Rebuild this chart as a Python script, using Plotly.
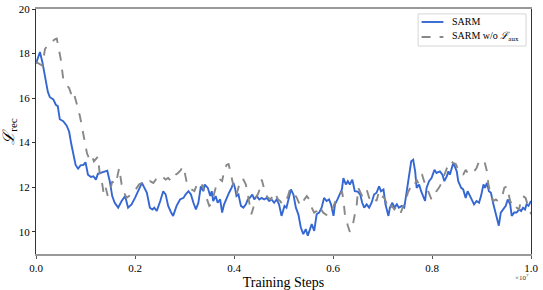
import plotly.graph_objects as go

# Training steps in units of 1e7
sarm_steps = [0.0, 0.008, 0.013, 0.016, 0.020, 0.024, 0.028, 0.035, 0.040, 0.044, 0.048, 0.055, 0.062, 0.067,
              0.071, 0.075, 0.080, 0.085, 0.090, 0.096, 0.100, 0.105, 0.111, 0.116, 0.121, 0.125, 0.131, 0.137,
              0.144, 0.149, 0.154, 0.159, 0.164, 0.166, 0.173, 0.180, 0.186, 0.193, 0.200, 0.207, 0.214, 0.219,
              0.224, 0.230, 0.235, 0.239, 0.244, 0.251, 0.257, 0.262, 0.267, 0.273, 0.277, 0.284, 0.291, 0.298,
              0.302, 0.308, 0.313, 0.318, 0.323, 0.328, 0.333, 0.338, 0.341, 0.347, 0.352, 0.355, 0.358, 0.363,
              0.367, 0.372, 0.376, 0.380, 0.385, 0.390, 0.395, 0.399, 0.402, 0.405, 0.409, 0.414, 0.419, 0.424,
              0.428, 0.432, 0.437, 0.441, 0.446, 0.451, 0.456, 0.461, 0.466, 0.471, 0.476, 0.481, 0.486, 0.491,
              0.496, 0.502, 0.506, 0.510, 0.515, 0.520, 0.525, 0.530, 0.535, 0.540, 0.545, 0.549, 0.554, 0.557,
              0.562, 0.567, 0.572, 0.577, 0.582, 0.587, 0.592, 0.596, 0.601, 0.604, 0.609, 0.614, 0.618, 0.621,
              0.626, 0.630, 0.634, 0.639, 0.644, 0.650, 0.655, 0.659, 0.663, 0.668, 0.673, 0.678, 0.683, 0.688,
              0.693, 0.697, 0.702, 0.706, 0.712, 0.715, 0.720, 0.724, 0.729, 0.733, 0.739, 0.744, 0.749, 0.754,
              0.758, 0.762, 0.766, 0.769, 0.774, 0.778, 0.782, 0.786, 0.789, 0.794, 0.799, 0.805, 0.809, 0.816,
              0.821, 0.825, 0.830, 0.833, 0.836, 0.840, 0.843, 0.846, 0.850, 0.853, 0.859, 0.863, 0.868, 0.872,
              0.877, 0.881, 0.885, 0.890, 0.895, 0.899, 0.904, 0.907, 0.911, 0.915, 0.919, 0.924, 0.929, 0.933,
              0.935, 0.939, 0.944, 0.949, 0.953, 0.958, 0.961, 0.966, 0.971, 0.976, 0.980, 0.984, 0.988, 0.991,
              0.995, 1.0]
sarm_loss = [17.55, 18.07, 17.6, 17.23, 16.78, 16.27, 16.04, 15.94, 15.70, 15.64, 15.05, 14.96, 14.76, 14.49,
             13.97, 13.45, 13.0, 12.83, 12.98, 13.0, 13.12, 12.56, 12.46, 12.49, 12.34, 12.60, 12.64, 12.67,
             12.74, 12.27, 11.60, 11.30, 11.11, 11.08, 11.38, 11.6, 11.08, 11.23, 11.52, 11.82, 12.19, 11.97,
             11.75, 11.08, 11.0, 11.08, 10.93, 11.38, 11.82, 11.67, 11.16, 10.86, 10.71, 11.16, 11.45, 11.52,
             11.67, 11.82, 11.67, 11.30, 11.0, 11.3, 12.04, 11.82, 12.12, 11.97, 11.6, 11.82, 11.38, 11.6,
             11.3, 11.45, 10.86, 11.23, 11.52, 11.75, 11.97, 12.19, 11.97, 11.6, 11.67, 11.16, 11.08, 11.23,
             11.45, 11.52, 11.67, 11.45, 11.6, 11.45, 11.52, 11.45, 11.52, 11.38, 11.45, 11.30, 11.45, 11.23,
             10.71, 11.16, 11.08, 11.45, 11.9, 11.67, 11.08, 10.78, 10.19, 9.89, 10.12, 9.82, 10.12, 10.34,
             10.04, 10.78, 10.86, 11.08, 11.52, 11.38, 11.45, 11.23, 10.71, 11.23, 11.45, 11.75, 11.9, 12.41,
             12.12, 12.27, 12.12, 12.34, 11.82, 11.8, 11.67, 11.3, 11.08, 11.23, 11.08, 11.3, 11.67, 11.75,
             12.04, 11.82, 11.9, 11.23, 10.71, 11.08, 11.3, 11.08, 11.23, 11.08, 11.16, 11.08, 11.82, 12.71,
             13.16, 13.23, 12.71, 11.97, 12.12, 11.82, 11.6, 11.38, 11.97, 12.27, 12.41, 12.78, 12.64, 12.71,
             12.56, 12.27, 12.49, 12.71, 12.56, 12.93, 13.08, 12.93, 12.71, 12.27, 11.97, 11.9, 11.52, 11.82,
             11.6, 11.38, 11.23, 11.38, 11.30, 11.6, 12.12, 11.97, 12.19, 11.82, 11.75, 11.23, 10.78, 10.49,
             10.27, 10.86, 11.0, 11.16, 11.45, 11.23, 10.71, 10.86, 10.86, 11.0, 10.93, 11.08, 11.0, 11.23,
             11.16, 11.38]

noaux_steps = [0.0, 0.008, 0.013, 0.018, 0.023, 0.030, 0.038, 0.042, 0.046, 0.050, 0.055, 0.060, 0.067, 0.071,
               0.075, 0.080, 0.085, 0.089, 0.093, 0.097, 0.103, 0.107, 0.112, 0.117, 0.123, 0.125, 0.129, 0.134,
               0.137, 0.141, 0.145, 0.149, 0.154, 0.158, 0.163, 0.168, 0.170, 0.173, 0.178, 0.183, 0.188, 0.193,
               0.199, 0.203, 0.208, 0.214, 0.219, 0.224, 0.230, 0.237, 0.242, 0.247, 0.252, 0.257, 0.262, 0.267,
               0.273, 0.277, 0.282, 0.287, 0.293, 0.296, 0.300, 0.304, 0.309, 0.314, 0.320, 0.325, 0.329, 0.334,
               0.336, 0.340, 0.345, 0.350, 0.354, 0.358, 0.363, 0.367, 0.372, 0.376, 0.380, 0.385, 0.389, 0.392,
               0.397, 0.401, 0.405, 0.410, 0.414, 0.419, 0.424, 0.428, 0.432, 0.435, 0.439, 0.442, 0.448, 0.453,
               0.456, 0.459, 0.464, 0.469, 0.475, 0.479, 0.484, 0.489, 0.493, 0.498, 0.503, 0.509, 0.513, 0.518,
               0.522, 0.527, 0.531, 0.537, 0.542, 0.547, 0.552, 0.557, 0.562, 0.567, 0.572, 0.576, 0.580, 0.585,
               0.591, 0.596, 0.601, 0.605, 0.609, 0.614, 0.618, 0.621, 0.624, 0.630, 0.634, 0.639, 0.643, 0.648,
               0.651, 0.655, 0.659, 0.663, 0.668, 0.673, 0.678, 0.683, 0.688, 0.693, 0.698, 0.704, 0.708, 0.713,
               0.719, 0.724, 0.729, 0.733, 0.737, 0.742, 0.747, 0.751, 0.756, 0.760, 0.764, 0.769, 0.772, 0.776,
               0.780, 0.784, 0.789, 0.794, 0.799, 0.805, 0.809, 0.814, 0.821, 0.825, 0.830, 0.834, 0.838, 0.843,
               0.848, 0.853, 0.859, 0.863, 0.868, 0.872, 0.877, 0.881, 0.885, 0.890, 0.895, 0.900, 0.906, 0.911,
               0.914, 0.919, 0.924, 0.929, 0.933, 0.937, 0.942, 0.946, 0.951, 0.954, 0.958, 0.961, 0.966, 0.971,
               0.976, 0.980, 0.984, 0.989, 0.993, 0.998, 1.0]
noaux_loss = [17.63, 17.52, 17.45, 18.19, 18.37, 18.49, 18.64, 18.67, 18.27, 17.75, 16.86, 16.64, 16.44, 16.19,
              16.34, 15.97, 15.52, 15.16, 14.64, 14.12, 13.52, 13.3, 13.45, 13.16, 13.3, 13.37, 12.56, 12.12,
              11.67, 11.97, 11.6, 11.75, 12.27, 12.12, 12.34, 12.86, 12.56, 12.12, 11.75, 11.52, 11.6, 11.75,
              11.82, 11.97, 12.12, 12.19, 12.12, 12.19, 12.27, 12.19, 12.34, 12.27, 12.41, 12.44, 12.34, 12.41,
              12.27, 12.41, 12.56, 12.64, 12.78, 12.93, 12.71, 12.27, 12.12, 11.9, 11.82, 12.12, 12.0, 11.95,
              12.12, 11.82, 11.45, 11.16, 11.23, 11.6, 11.97, 12.27, 12.34, 12.27, 12.71, 13.0, 13.04, 12.78,
              12.19, 11.82, 11.67, 12.12, 12.38, 12.34, 12.12, 11.67, 11.16, 10.78, 11.08, 11.45, 11.67, 11.97,
              12.34, 12.12, 11.67, 11.52, 11.45, 11.75, 11.67, 11.45, 11.38, 11.23, 11.3, 11.6, 11.9, 11.82,
              11.67, 11.52, 11.3, 11.16, 11.45, 11.6, 11.45, 11.08, 10.86, 10.93, 11.16, 11.0, 10.86, 10.78,
              10.71, 10.86, 11.16, 11.45, 11.6, 11.67, 11.82, 11.45, 10.78, 10.27, 10.0, 10.19, 10.63, 11.23,
              11.97, 11.75, 11.6, 11.82, 11.9, 11.52, 11.38, 11.52, 11.38, 11.82, 11.6, 11.52, 11.3, 11.0,
              11.16, 11.0, 11.16, 11.0, 10.86, 11.16, 11.3, 11.75, 11.97, 11.9, 12.04, 12.34, 12.19, 12.56,
              12.56, 12.27, 11.97, 11.67, 11.45, 11.6, 11.82, 11.97, 12.27, 12.56, 12.86, 13.08, 13.18, 13.08,
              13.04, 12.78, 12.71, 12.56, 12.78, 12.64, 12.71, 12.64, 12.71, 12.86, 13.16, 13.23, 13.16, 12.71,
              12.12, 11.67, 11.38, 11.45, 11.38, 11.52, 11.6, 11.97, 12.04, 11.75, 11.38, 11.23, 11.0, 11.08,
              11.0, 11.45, 11.6, 11.52, 11.23, 11.0, 10.78]

x_ticks = [0.0, 0.2, 0.4, 0.6, 0.8, 1.0]
x_tick_labels = ["0.0", "0.2", "0.4", "0.6", "0.8", "1.0"]
y_ticks = [10, 12, 14, 16, 18, 20]
series_names = ["SARM", "SARM w/o <i>ℒ</i><sub>aux</sub>"]
series_colors = ["#3567d3", "#888888"]
series_dash = ["solid", "dash"]

FONT = "Liberation Serif, Times New Roman, serif"

fig = go.Figure()
fig.add_trace(go.Scatter(x=sarm_steps, y=sarm_loss, mode="lines", name=series_names[0],
                         line=dict(color=series_colors[0], width=1.9, dash=series_dash[0])))
fig.add_trace(go.Scatter(x=noaux_steps, y=noaux_loss, mode="lines", name=series_names[1],
                         line=dict(color=series_colors[1], width=1.9, dash=series_dash[1])))

fig.update_layout(
    width=543, height=290,
    margin=dict(l=36, r=12, t=9, b=36),
    paper_bgcolor="white", plot_bgcolor="white",
    font=dict(family=FONT, size=11, color="black"),
    showlegend=False,
)
fig.update_xaxes(range=[0, 1], tickvals=x_ticks, ticktext=x_tick_labels,
                 showgrid=False, zeroline=False, automargin=False,
                 showline=True, linecolor="#999999", linewidth=2, mirror=True,
                 ticks="outside", ticklen=3, tickcolor="#555555",
                 tickfont=dict(family=FONT, size=11),
                 title=dict(text="Training Steps", font=dict(family=FONT, size=14), standoff=4))
fig.update_yaxes(range=[9, 20], tickvals=y_ticks,
                 showgrid=False, zeroline=False, automargin=False,
                 showline=True, linecolor="#333333", linewidth=1, mirror=True,
                 ticks="outside", ticklen=3, tickcolor="#333333",
                 tickfont=dict(family=FONT, size=11),
                 title=dict(text="<i>ℒ</i><sub>rec</sub>", font=dict(family=FONT, size=16), standoff=2))
fig.add_annotation(text="×10<sup>7</sup>", x=1.0, y=-0.07, xref="paper", yref="paper",
                   xanchor="right", yanchor="top", showarrow=False,
                   font=dict(family=FONT, size=7, color="#333333"))

# Custom legend box (matplotlib style)
fig.add_shape(type="rect", xref="paper", yref="paper", x0=0.772, x1=0.990, y0=0.849, y1=0.980,
              line=dict(color="#d6d6d6", width=1), fillcolor="white", layer="above")
legend_rows_y = [0.947, 0.886]
for name, color, dash, yy in zip(series_names, series_colors, series_dash, legend_rows_y):
    fig.add_shape(type="line", xref="paper", yref="paper", x0=0.779, x1=0.823, y0=yy, y1=yy,
                  line=dict(color=color, width=1.9, dash=dash), layer="above")
    fig.add_annotation(text=name, x=0.836, y=yy, xref="paper", yref="paper",
                       xanchor="left", yanchor="middle", showarrow=False,
                       font=dict(family=FONT, size=10, color="black"))

fig.write_html("out.html", config={"displayModeBar": False},
               post_script="document.body.style.margin='0';document.body.style.padding='0';")
